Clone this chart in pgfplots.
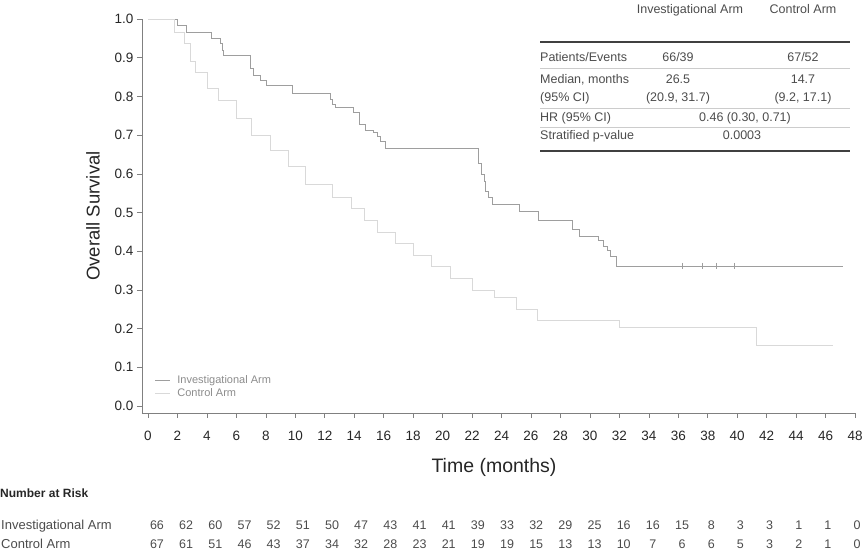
\documentclass[border=0pt]{standalone}
\usepackage{fontspec}
\setmainfont{Liberation Sans}
\usepackage{pgfplots}
\pgfplotsset{compat=1.18}
\definecolor{invcol}{gray}{0.62}
\definecolor{ctrlcol}{gray}{0.85}
\definecolor{axcol}{gray}{0.50}
\definecolor{txtcol}{gray}{0.15}
\definecolor{tabcol}{gray}{0.30}

\pgfplotstableread{
t S
0 1.0
2.0 0.985
2.6 0.966
4.3 0.95
4.9 0.936
5.05 0.92
5.1 0.906
6.97 0.873
7.15 0.855
7.6 0.842
8.0 0.828
9.8 0.808
12.4 0.793
12.5 0.78
12.7 0.773
13.94 0.760
14.35 0.729
14.75 0.712
15.3 0.706
15.6 0.696
15.8 0.685
16.1 0.667
22.4 0.627
22.6 0.60
22.8 0.58
22.9 0.555
23.1 0.54
23.4 0.521
25.2 0.504
26.5 0.48
28.8 0.457
29.3 0.439
30.6 0.428
30.9 0.412
31.2 0.403
31.4 0.386
31.8 0.362
47.2 0.362
}\invtab

\pgfplotstableread{
t S
0 1.0
1.79 0.966
2.47 0.936
2.85 0.89
3.24 0.861
4.0 0.82
4.8 0.79
6.0 0.743
7.0 0.70
8.3 0.66
9.5 0.62
10.7 0.573
12.5 0.54
13.8 0.51
14.7 0.48
15.6 0.45
16.8 0.42
18.0 0.39
19.2 0.36
20.5 0.33
22.0 0.30
23.5 0.28
25.0 0.25
26.4 0.222
32.0 0.204
41.3 0.158
46.5 0.158
}\ctrltab

\begin{document}
\begin{tikzpicture}
\begin{axis}[
  scale only axis, width=713.1pt, height=393.97pt,
  at={(148pt,-406pt)}, anchor=origin,
  xmin=-0.41, xmax=48, ymin=-0.018, ymax=1,
  axis x line=bottom, axis y line=left,
  axis line style={-, draw=axcol, line width=0.6pt},
  xtick={0,2,...,48},
  ytick={0,0.1,0.2,0.3,0.4,0.5,0.6,0.7,0.8,0.9,1.0},
  tick align=outside, major tick length=5pt,
  tick style={draw=axcol, line width=0.6pt},
  /pgf/number format/assume math mode=true,
  yticklabel style={/pgf/number format/.cd, fixed, fixed zerofill, precision=1},
  ticklabel style={font=\fontsize{13.5}{16}\selectfont, text=txtcol},
  xticklabel style={yshift=-10pt},
  clip=false,
  legend cell align=left,
  legend style={at={(axis cs:0.45,0.082)}, anchor=north west, draw=none, fill=none,
    font=\fontsize{11}{12}\selectfont, text=black!45, row sep=1.5pt, column sep=6pt,
    inner sep=0pt, nodes={inner sep=1pt}},
  legend image code/.code={\draw[#1] (0pt,0pt) -- (15pt,0pt);},
]
\addplot[const plot, invcol, line width=0.6pt] table[x=t,y=S] {\invtab};
\addlegendentry{Investigational Arm}
\addplot[const plot, ctrlcol, line width=0.6pt] table[x=t,y=S] {\ctrltab};
\addlegendentry{Control Arm}
\addplot[only marks, mark=|, mark size=3pt, invcol, forget plot] coordinates {(36.25,0.362) (37.6,0.362) (38.6,0.362) (39.8,0.362)};
\end{axis}
\pgfresetboundingbox
\useasboundingbox (0pt,0pt) rectangle (865pt,-555pt);
\begin{scope}[x=1pt,y=-1pt]
  \node[rotate=90, font=\fontsize{18.5}{20}\selectfont, text=txtcol] at (93,216) {Overall Survival};
  \node[font=\fontsize{19.5}{21}\selectfont, text=txtcol] at (494,467) {Time (months)};
  \node[font=\fontsize{12}{14}\selectfont\bfseries, anchor=base west, inner sep=0pt, text=txtcol] at (0,497.5) {Number at Risk};
  \node[font=\fontsize{13}{15}\selectfont, anchor=base west, inner sep=0pt, text=tabcol] at (1,529.5) {Investigational Arm};
  \node[font=\fontsize{13}{15}\selectfont, anchor=base west, inner sep=0pt, text=tabcol] at (1,548.5) {Control Arm};
  \foreach \v [count=\i from 0] in {66,62,60,57,52,51,50,47,43,41,41,39,33,32,29,25,16,16,15,8,3,3,1,1,0}
    \node[font=\fontsize{12.5}{14}\selectfont, anchor=base, inner sep=0pt, text=tabcol] at ({157+29.17*\i},529.5) {\v};
  \foreach \v [count=\i from 0] in {67,61,51,46,43,37,34,32,28,23,21,19,19,15,13,13,10,7,6,6,5,3,2,1,0}
    \node[font=\fontsize{12.5}{14}\selectfont, anchor=base, inner sep=0pt, text=tabcol] at ({157+29.17*\i},548.5) {\v};
  % summary table
  \begin{scope}[every node/.style={font=\fontsize{12.5}{14}\selectfont, inner sep=0pt, text=tabcol}]
    \node[anchor=base] at (690,13.5) {Investigational Arm};
    \node[anchor=base] at (803,13.5) {Control Arm};
    \draw[black!75, line width=1.2pt] (540,42) -- (850,42);
    \node[anchor=base west] at (540,61.5) {Patients/Events};
    \node[anchor=base] at (678,61.5) {66/39};
    \node[anchor=base] at (803,61.5) {67/52};
    \draw[black!20, line width=0.5pt] (540,68) -- (850,68);
    \node[anchor=base west] at (540,83.5) {Median, months};
    \node[anchor=base] at (678,83.5) {26.5};
    \node[anchor=base] at (803,83.5) {14.7};
    \node[anchor=base west] at (540,101.5) {(95\% CI)};
    \node[anchor=base] at (678,101.5) {(20.9, 31.7)};
    \node[anchor=base] at (803,101.5) {(9.2, 17.1)};
    \draw[black!20, line width=0.5pt] (540,108) -- (850,108);
    \node[anchor=base west] at (540,121.5) {HR (95\% CI)};
    \node[anchor=base] at (745,121.5) {0.46 (0.30, 0.71)};
    \draw[black!20, line width=0.5pt] (540,127) -- (850,127);
    \node[anchor=base west] at (540,139.5) {Stratified p-value};
    \node[anchor=base] at (742,139.5) {0.0003};
    \draw[black!75, line width=1.2pt] (540,151) -- (850,151);
  \end{scope}
\end{scope}
\end{tikzpicture}
\end{document}
